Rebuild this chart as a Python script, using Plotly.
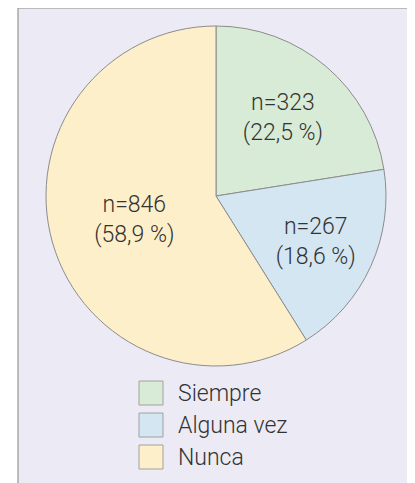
import plotly.graph_objects as go

categories = ["Siempre", "Alguna vez", "Nunca"]
counts = [323, 267, 846]
percent_labels = ["22,5", "18,6", "58,9"]
colors = ["#d8ebd6", "#d4e6f2", "#fdefc9"]

W, H = 415, 483
OX, OY = 8, 8  # page body margin offset


def px(x):
    return (x - OX) / W


def py(y):
    return 1 - (y - OY) / H


fig = go.Figure()
fig.add_trace(go.Pie(
    labels=categories,
    values=counts,
    customdata=percent_labels,
    texttemplate="n=%{value}<br>(%{customdata} %)",
    textposition="inside",
    insidetextorientation="horizontal",
    sort=False,
    direction="clockwise",
    rotation=0,
    marker=dict(colors=colors, line=dict(color="#8c8c8c", width=1)),
    textfont=dict(family="Roboto", size=23, color="#333333", weight=300),
    domain=dict(x=[px(46), px(386)], y=[py(366), py(26)]),
    showlegend=False,
    hoverinfo="skip",
))

shapes = [dict(type="rect", xref="paper", yref="paper",
               x0=px(18), x1=px(414), y0=-0.05, y1=py(8),
               fillcolor="#ecebf5", line=dict(color="#a8a8a8", width=1.5), layer="below")]
annotations = []
for i, (cat, col) in enumerate(zip(categories, colors)):
    cy = 393 + 32 * i
    shapes.append(dict(type="rect", xref="paper", yref="paper",
                       x0=px(139), x1=px(163), y0=py(cy + 12), y1=py(cy - 12),
                       fillcolor=col, line=dict(color="#a0a0a0", width=1)))
    annotations.append(dict(x=px(176), y=py(cy), xref="paper", yref="paper",
                            text=cat, showarrow=False, xanchor="left", yanchor="middle",
                            font=dict(family="Roboto", size=23, color="#333333", weight=300)))

fig.update_layout(
    width=W, height=H,
    margin=dict(l=0, r=0, t=0, b=0),
    paper_bgcolor="white",
    plot_bgcolor="white",
    shapes=shapes,
    annotations=annotations,
)
fig.write_html("out.html")
